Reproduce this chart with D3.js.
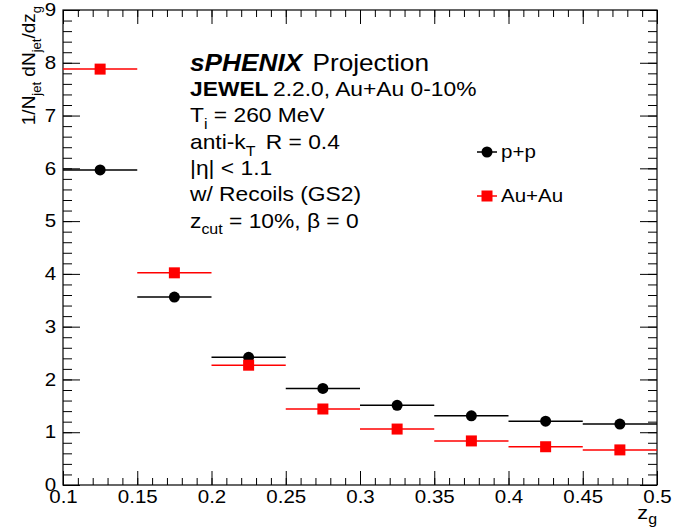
<!DOCTYPE html>
<html>
<head>
    <meta charset="utf-8">
    <title>sPHENIX zg projection</title>
    <script src="https://d3js.org/d3.v7.min.js"></script>
    <style>
        body { margin: 0; background: #fff; }
        svg { display: block; font-family: "Liberation Sans", Arial, sans-serif; }
        .tick text { font-size: 18px; fill: #000; }
        .tick line { stroke: #000; stroke-width: 1; }
    </style>
</head>
<body>
<script>
    // bins in z_g (lower edges), width 0.05
    var binLow = [0.10, 0.15, 0.20, 0.25, 0.30, 0.35, 0.40, 0.45];
    var binWidth = 0.05;
    var ppValues   = [5.97, 3.56, 2.42, 1.83, 1.51, 1.31, 1.21, 1.155];
    var auauValues = [7.88, 4.02, 2.27, 1.44, 1.06, 0.835, 0.725, 0.665];

    var xMajor = [0.1, 0.15, 0.2, 0.25, 0.3, 0.35, 0.4, 0.45, 0.5];
    var yMajor = [0, 1, 2, 3, 4, 5, 6, 7, 8, 9];

    var W = 673, H = 527;
    var SX = 1.14; // text in the reference is a bit wide

    var svg = d3.select("body").append("svg")
        .attr("width", W)
        .attr("height", H);

    var x = d3.scaleLinear().domain([0.1, 0.5]).range([63, 657]);
    var y = d3.scaleLinear().domain([0, 9]).range([485, 10]);

    // minor ticks
    var xMinor = d3.range(0, 41).map(function(i) { return +(0.1 + i * 0.01).toFixed(3); });
    var yMinor = d3.range(0, 46).map(function(i) { return +(i * 0.2).toFixed(2); });

    function fmtX(d) { return String(+d.toFixed(2)); }

    // bottom axis
    svg.append("g").attr("transform", "translate(0," + y(0) + ")")
        .call(d3.axisBottom(x).tickValues(xMinor).tickSize(-7).tickFormat(""));
    svg.append("g").attr("transform", "translate(0," + y(0) + ")")
        .call(d3.axisBottom(x).tickValues(xMajor).tickSize(-14).tickPadding(5).tickFormat(fmtX));
    // top axis
    svg.append("g").attr("transform", "translate(0," + y(9) + ")")
        .call(d3.axisTop(x).tickValues(xMinor).tickSize(-7).tickFormat(""));
    svg.append("g").attr("transform", "translate(0," + y(9) + ")")
        .call(d3.axisTop(x).tickValues(xMajor).tickSize(-14).tickFormat(""));
    // left axis
    svg.append("g").attr("transform", "translate(" + x(0.1) + ",0)")
        .call(d3.axisLeft(y).tickValues(yMinor).tickSize(-9).tickFormat(""));
    svg.append("g").attr("transform", "translate(" + x(0.1) + ",0)")
        .call(d3.axisLeft(y).tickValues(yMajor).tickSize(-17).tickPadding(6).tickFormat(d3.format("d")));
    // right axis
    svg.append("g").attr("transform", "translate(" + x(0.5) + ",0)")
        .call(d3.axisRight(y).tickValues(yMinor).tickSize(-9).tickFormat(""));
    svg.append("g").attr("transform", "translate(" + x(0.5) + ",0)")
        .call(d3.axisRight(y).tickValues(yMajor).tickSize(-17).tickFormat(""));

    svg.selectAll(".domain").remove();
    svg.selectAll(".tick text").attr("transform", "scale(" + SX + ",1)");

    // frame
    svg.append("rect")
        .attr("x", x(0.1)).attr("y", y(9))
        .attr("width", x(0.5) - x(0.1)).attr("height", y(0) - y(9))
        .attr("fill", "none").attr("stroke", "#000").attr("stroke-width", 1.2);

    // data
    var pp = binLow.map(function(lo, i) { return {lo: lo, v: ppValues[i]}; });
    var auau = binLow.map(function(lo, i) { return {lo: lo, v: auauValues[i]}; });

    function drawSeries(data, color, shape) {
        var g = svg.append("g");
        g.selectAll("line").data(data).enter().append("line")
            .attr("x1", function(d) { return x(d.lo); })
            .attr("x2", function(d) { return x(d.lo + binWidth); })
            .attr("y1", function(d) { return y(d.v); })
            .attr("y2", function(d) { return y(d.v); })
            .attr("stroke", color).attr("stroke-width", 1.5);
        if (shape === "circle") {
            g.selectAll("circle").data(data).enter().append("circle")
                .attr("cx", function(d) { return x(d.lo + binWidth / 2); })
                .attr("cy", function(d) { return y(d.v); })
                .attr("r", 5.5).attr("fill", color);
        } else {
            g.selectAll("rect").data(data).enter().append("rect")
                .attr("x", function(d) { return x(d.lo + binWidth / 2) - 5.5; })
                .attr("y", function(d) { return y(d.v) - 5.5; })
                .attr("width", 11).attr("height", 11).attr("fill", color);
        }
    }
    drawSeries(pp, "#000", "circle");
    drawSeries(auau, "#ff0000", "square");

    // text helper: stretched horizontally like the reference
    function label(px, py, size) {
        return svg.append("text")
            .attr("transform", "translate(" + px + "," + py + ") scale(" + SX + ",1)")
            .attr("font-size", size);
    }

    var tx = 190;
    var t1 = label(tx, 71, 23);
    t1.append("tspan").attr("font-weight", "bold").attr("font-style", "italic").text("sPHENIX");
    t1.append("tspan").attr("dx", 9).text("Projection");

    var t2 = label(tx, 96, 20);
    t2.append("tspan").attr("font-weight", "bold").text("JEWEL");
    t2.append("tspan").attr("dx", 4).text("2.2.0, Au+Au 0-10%");

    var t3 = label(tx, 122, 20);
    t3.append("tspan").text("T");
    t3.append("tspan").attr("dy", 7).attr("font-size", 14).text("i");
    t3.append("tspan").attr("dy", -7).text(" = 260 MeV");

    var t4 = label(tx, 149, 20);
    t4.append("tspan").text("anti-k");
    t4.append("tspan").attr("dy", 7).attr("font-size", 14).text("T");
    t4.append("tspan").attr("dy", -7).attr("dx", 9).text("R = 0.4");

    label(tx, 175, 20).text("|\u03B7| < 1.1");
    label(tx, 201, 20).text("w/ Recoils (GS2)");

    var t7 = label(tx, 228, 20);
    t7.append("tspan").text("z");
    t7.append("tspan").attr("dy", 6).attr("font-size", 14).text("cut");
    t7.append("tspan").attr("dy", -6).text(" = 10%, \u03B2 = 0");

    // legend
    var legend = [{label: "p+p", color: "#000", shape: "circle", y: 152},
                  {label: "Au+Au", color: "#ff0000", shape: "square", y: 196}];
    legend.forEach(function(l) {
        svg.append("line").attr("x1", 477).attr("x2", 497).attr("y1", l.y).attr("y2", l.y)
            .attr("stroke", l.color).attr("stroke-width", 1.5);
        if (l.shape === "circle") {
            svg.append("circle").attr("cx", 487).attr("cy", l.y).attr("r", 5.5).attr("fill", l.color);
        } else {
            svg.append("rect").attr("x", 481.5).attr("y", l.y - 5.5).attr("width", 11).attr("height", 11).attr("fill", l.color);
        }
        label(501, l.y + 6, 18).text(l.label);
    });

    // axis titles
    var xt = svg.append("text")
        .attr("transform", "translate(657,519) scale(" + SX + ",1)")
        .attr("font-size", 19).attr("text-anchor", "end");
    xt.append("tspan").text("z");
    xt.append("tspan").attr("dy", 5).attr("font-size", 14).text("g");

    var yt = svg.append("text").attr("transform", "translate(35,6) rotate(-90)")
        .attr("font-size", 19).attr("text-anchor", "end");
    yt.append("tspan").text("1/N");
    yt.append("tspan").attr("dy", 6).attr("font-size", 13).text("jet");
    yt.append("tspan").attr("dy", -6).text("  dN");
    yt.append("tspan").attr("dy", 6).attr("font-size", 13).text("jet");
    yt.append("tspan").attr("dy", -6).text("/dz");
    yt.append("tspan").attr("dy", 6).attr("font-size", 13).text("g");
</script>
</body>
</html>
